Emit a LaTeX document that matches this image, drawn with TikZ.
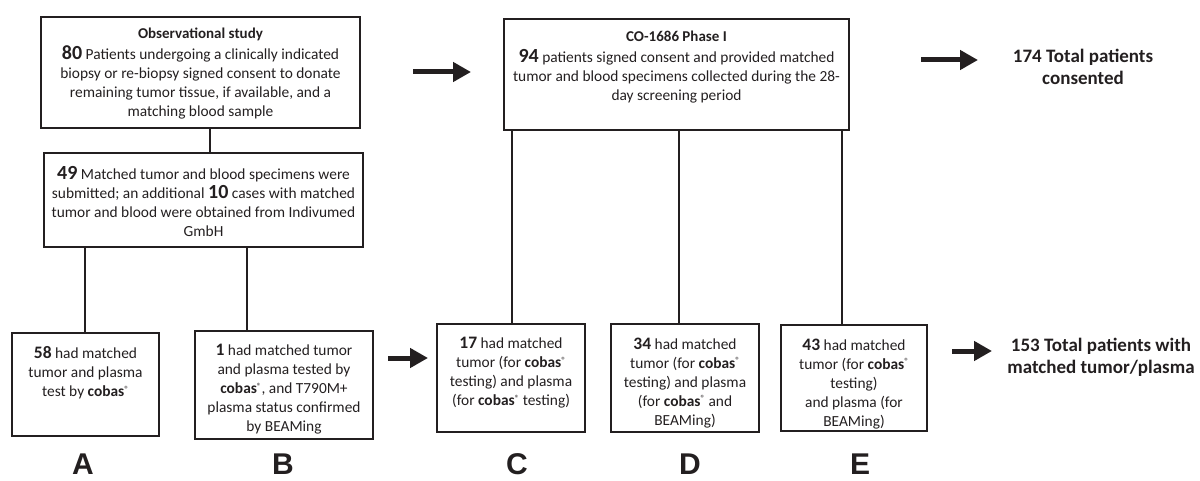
\documentclass[tikz,border=0pt]{standalone}
\usepackage{fontspec}
\setmainfont{Carlito}
\newfontfamily\letterfont{Liberation Sans}
\usetikzlibrary{arrows.meta}
\definecolor{ink}{HTML}{231F20}
\newcommand{\reg}{\raisebox{0.55ex}{\fontsize{9}{9}\selectfont ®}}
\newcommand{\cobas}{\textbf{cobas}\reg}
\newcommand{\bignum}[1]{{\fontsize{20}{19}\selectfont\bfseries #1}}
\newcommand{\midnum}[1]{{\fontsize{17.5}{19}\selectfont\bfseries #1}}
\tikzset{
  box/.style={draw=ink, line width=1.3pt, inner sep=0pt},
  txt/.style={align=center, inner sep=0pt, text=ink, anchor=north, font=\fontsize{15.4}{19}\selectfont},
  conn/.style={draw=ink, line width=1.1pt},
  bigarrow/.style={draw=ink, line width=5pt, -{Triangle[length=18pt,width=19pt]}},
  letter/.style={font=\letterfont\bfseries\fontsize{30}{30}\selectfont, text=ink, anchor=base, inner sep=0pt},
  total/.style={font=\bfseries\fontsize{19}{22}\selectfont, align=center, text=ink, inner sep=0pt}
}
\begin{document}
\begin{tikzpicture}[x=1pt,y=-1pt]
\useasboundingbox (0,0) rectangle (1200,481);
% boxes
\node[box, minimum width=319pt, minimum height=111pt] (obs) at (200.5,72.5) {};
\node[box, minimum width=319pt, minimum height=94pt] (sub) at (203.5,200) {};
\node[box, minimum width=345pt, minimum height=111pt] (co) at (676.5,74.5) {};
\node[box, minimum width=147pt, minimum height=103pt] (A) at (85.5,384.5) {};
\node[box, minimum width=178pt, minimum height=108pt] (B) at (284,385) {};
\node[box, minimum width=148pt, minimum height=108pt] (C) at (511,378) {};
\node[box, minimum width=148pt, minimum height=108pt] (D) at (685,378) {};
\node[box, minimum width=146pt, minimum height=106pt] (E) at (854,378) {};
% texts
\node[txt] (obst) at ([yshift=-11pt]obs.north) {{\fontsize{15}{15}\selectfont\bfseries Observational study}\\[2pt]
\bignum{80} Patients undergoing a clinically indicated\\
biopsy or re-biopsy signed consent to donate\\
remaining tumor tissue, if available, and a\\
matching blood sample};
\node[txt] (subt) at ([yshift=-14pt]sub.north) {\bignum{49} Matched tumor and blood specimens were\\
submitted; an additional \bignum{10} cases with matched\\
tumor and blood were obtained from Indivumed\\
GmbH};
\node[txt] (cot) at ([yshift=-12pt]co.north) {{\fontsize{15}{15}\selectfont\bfseries CO-1686 Phase I}\\[2pt]
\bignum{94} patients signed consent and provided matched\\
tumor and blood specimens collected during the 28-\\
day screening period};
\node[txt] (At) at ([yshift=-14pt]A.north) {\midnum{58} had matched\\tumor and plasma\\test by \cobas};
\node[txt] (Bt) at ([yshift=-14pt]B.north) {\midnum{1} had matched tumor\\and plasma tested by\\\cobas, and T790M+\\plasma status confirmed\\by BEAMing};
\node[txt] (Ct) at ([yshift=-14pt]C.north) {\midnum{17} had matched\\tumor (for \cobas\\testing) and plasma\\(for \cobas\ testing)};
\node[txt] (Dt) at ([yshift=-14pt]D.north) {\midnum{34} had matched\\tumor (for \cobas\\testing) and plasma\\(for \cobas\ and\\BEAMing)};
\node[txt] (Et) at ([yshift=-14pt]E.north) {\midnum{43} had matched\\tumor (for \cobas\\testing)\\and plasma (for\\BEAMing)};
% connector x positions
\coordinate (x1) at (210,0);
\coordinate (xA) at (85,0);
\coordinate (xB) at (247,0);
\coordinate (xC) at (512,0);
\coordinate (xD) at (679,0);
\coordinate (xE) at (842,0);
\draw[conn] (obs.south -| x1) -- (sub.north -| x1);
\draw[conn] (sub.south -| xA) -- (A.north -| xA);
\draw[conn] (sub.south -| xB) -- (B.north -| xB);
\draw[conn] (co.south -| xC) -- (C.north -| xC);
\draw[conn] (co.south -| xD) -- (D.north -| xD);
\draw[conn] (co.south -| xE) -- (E.north -| xE);
% totals
\node[total] (tot1) at (1083,67) {174 Total patients\\consented};
\node[total] (tot2) at (1101,357) {153 Total patients with\\matched tumor/plasma};
% big arrows
\coordinate (a1s) at (413,72); \coordinate (a1e) at (471,72);
\coordinate (a2s) at (921,60); \coordinate (a2e) at (978,60);
\coordinate (a3s) at (388,358); \coordinate (a3e) at (428,358);
\coordinate (a4s) at (952,351); \coordinate (a4e) at (992,351);
\draw[bigarrow] (a1s) -- (a1e);
\draw[bigarrow] (a2s) -- (a2e);
\draw[bigarrow] (a3s) -- (a3e);
\draw[bigarrow] (a4s) -- (a4e);
% letters
\node[letter] (LA) at (83,474) {A};
\node[letter] (LB) at (283,474) {B};
\node[letter] (LC) at (517,474) {C};
\node[letter] (LD) at (690,474) {D};
\node[letter] (LE) at (860,474) {E};
\end{tikzpicture}
\end{document}
